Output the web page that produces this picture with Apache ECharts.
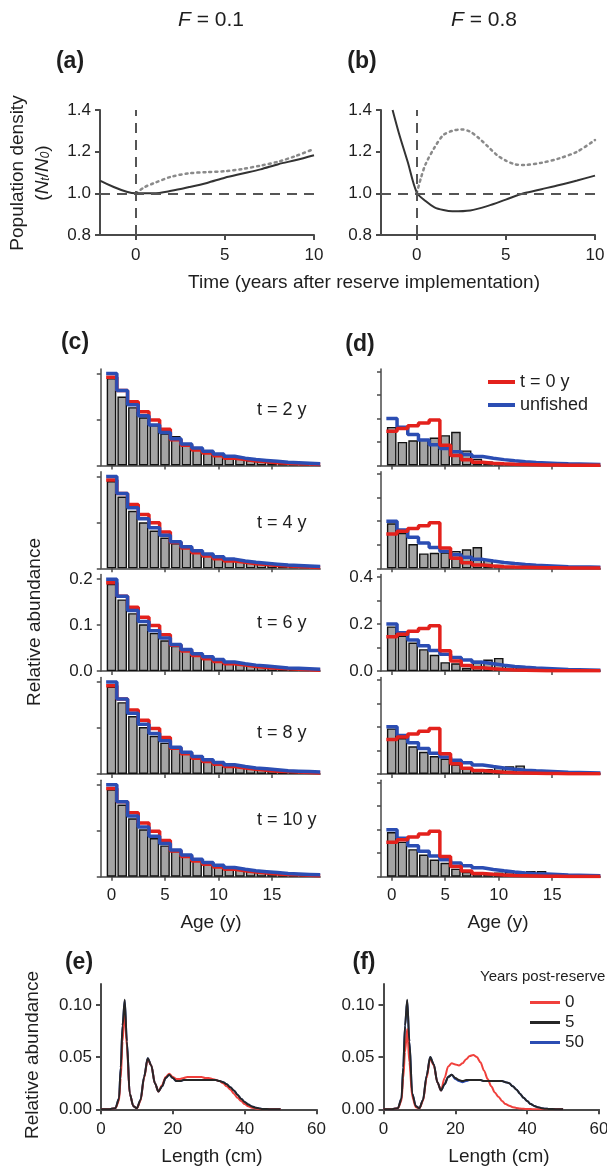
<!DOCTYPE html>
<html><head><meta charset="utf-8">
<script src="https://cdn.jsdelivr.net/npm/echarts/dist/echarts.min.js"></script>
<style>html,body{margin:0;padding:0;background:#fff;}#c{width:607px;height:1170px;}</style>
</head><body><div id="c"></div>
<script>
// ---------- DATA ----------
// Panels (a)/(b): population density (N_t/N_0) vs time after reserve implementation
const refDensity = 1.0;
const reserveYear = 0;
const timeSolidA = [-2, 0, 1, 2, 3, 4, 5, 6, 7, 8, 9, 10];
const densSolidA = [1.061, 1.0, 1.0, 1.012, 1.03, 1.05, 1.075, 1.095, 1.115, 1.14, 1.16, 1.183];
const timeDotA = [0, 0.5, 1, 2, 3, 4, 5, 6, 7, 8, 9, 10];
const densDotA = [1.0, 1.03, 1.048, 1.08, 1.096, 1.102, 1.106, 1.117, 1.133, 1.152, 1.18, 1.213];
const timeSolidB = [-1.35, -1, -0.5, 0, 0.5, 1, 1.5, 2, 3, 4, 5, 6, 7, 8, 9, 10];
const densSolidB = [1.4, 1.29, 1.15, 1.005, 0.963, 0.933, 0.92, 0.914, 0.918, 0.94, 0.97, 1.0, 1.02, 1.04, 1.062, 1.085];
const timeDotB = [0, 0.25, 0.5, 1, 1.5, 2, 2.5, 3, 3.5, 4, 4.5, 5, 5.5, 6, 7, 8, 9, 10];
const densDotB = [1.0, 1.077, 1.14, 1.22, 1.28, 1.3, 1.307, 1.296, 1.264, 1.224, 1.184, 1.157, 1.14, 1.136, 1.147, 1.168, 1.2, 1.256];
const timeTicks = [0, 5, 10];
const densTicks = [0.8, 1.0, 1.2, 1.4];

// Panels (c)/(d): relative abundance by age
const ages = [0,1,2,3,4,5,6,7,8,9,10,11,12,13,14,15,16,17,18,19];
const ageTicks = [0, 5, 10, 15];
const yearLabels = ['t = 2 y', 't = 4 y', 't = 6 y', 't = 8 y', 't = 10 y'];
const unfished = [0.2, 0.163, 0.132, 0.108, 0.088, 0.072, 0.058, 0.047, 0.038, 0.031, 0.025, 0.02, 0.016, 0.013, 0.011, 0.009, 0.007, 0.006, 0.005, 0.004];
const fishedC = [0.192, 0.163, 0.139, 0.117, 0.099, 0.079, 0.056, 0.044, 0.034, 0.027, 0.021, 0.016, 0.013, 0.01, 0.008, 0.006, 0.005, 0.004, 0.003, 0.002];
const fishedD = [0.146, 0.157, 0.169, 0.181, 0.193, 0.086, 0.043, 0.024, 0.014, 0.01, 0.007, 0.005, 0.004, 0.003, 0.002, 0.002, 0.001, 0.001, 0.001, 0.001];
const barsC2 = [0.19, 0.15, 0.127, 0.105, 0.088, 0.07, 0.064, 0.049, 0.038, 0.03, 0.024, 0.019, 0.015, 0.012, 0.01, 0.008, 0.006, 0.005, 0.004, 0.003];
const barsC4 = [0.19, 0.156, 0.125, 0.1, 0.082, 0.067, 0.055, 0.046, 0.039, 0.031, 0.025, 0.02, 0.016, 0.013, 0.01, 0.008, 0.007, 0.005, 0.004, 0.003];
const barsC6 = [0.19, 0.156, 0.126, 0.102, 0.083, 0.067, 0.055, 0.045, 0.037, 0.03, 0.024, 0.019, 0.016, 0.013, 0.01, 0.008, 0.007, 0.005, 0.004, 0.003];
const barsC8 = [0.19, 0.156, 0.126, 0.102, 0.083, 0.068, 0.055, 0.045, 0.037, 0.03, 0.024, 0.02, 0.016, 0.013, 0.01, 0.008, 0.007, 0.005, 0.004, 0.003];
const barsC10 = [0.19, 0.157, 0.127, 0.103, 0.084, 0.068, 0.056, 0.046, 0.037, 0.03, 0.025, 0.02, 0.016, 0.013, 0.01, 0.008, 0.007, 0.005, 0.004, 0.003];
const barsD2 = [0.164, 0.1, 0.107, 0.111, 0.119, 0.129, 0.143, 0.064, 0.029, 0.017, 0.011, 0.008, 0.006, 0.005, 0.004, 0.003, 0.002, 0.002, 0.001, 0.001];
const barsD4 = [0.191, 0.151, 0.103, 0.063, 0.066, 0.068, 0.074, 0.081, 0.09, 0.037, 0.015, 0.01, 0.007, 0.005, 0.004, 0.003, 0.002, 0.002, 0.001, 0.001];
const barsD6 = [0.19, 0.151, 0.121, 0.093, 0.069, 0.038, 0.033, 0.014, 0.044, 0.049, 0.056, 0.026, 0.017, 0.01, 0.007, 0.005, 0.004, 0.003, 0.002, 0.001];
const barsD8 = [0.193, 0.152, 0.117, 0.094, 0.076, 0.065, 0.041, 0.025, 0.017, 0.021, 0.03, 0.033, 0.036, 0.018, 0.01, 0.006, 0.004, 0.003, 0.002, 0.001];
const barsD10 = [0.19, 0.149, 0.117, 0.094, 0.073, 0.059, 0.034, 0.021, 0.014, 0.015, 0.018, 0.021, 0.021, 0.024, 0.024, 0.01, 0.006, 0.004, 0.003, 0.002];
const cTicks = [0, 0.1, 0.2];
const dTicks = [0, 0.1, 0.2, 0.3, 0.4];
const dLabels = [0, 0.2, 0.4];

// Panels (e)/(f): relative abundance by length
const lengths = [0, 2, 4, 5, 5.5, 6, 6.6, 7.2, 8, 9, 10, 11, 12, 13, 14, 15, 16, 17, 18, 19, 20, 21, 22, 23, 24, 25, 26, 27, 28, 29, 30, 31, 32, 33, 34, 35, 36, 37, 38, 39, 40, 41, 42, 43, 44, 45, 46, 48, 50];
const lenE0 = [0,0,0.001,0.008,0.03,0.065,0.095,0.06,0.015,0.003, 0.001,0.008,0.03,0.048,0.042,0.025,0.017,0.023,0.031,0.034, 0.031,0.029,0.029,0.03,0.031,0.031,0.031,0.031,0.031,0.03, 0.03,0.029,0.028,0.027,0.025,0.022,0.019,0.015,0.011,0.008, 0.005,0.003,0.0015,0.0007,0.0003,0.0001,0,0,0];
const lenE5 = [0,0,0.001,0.01,0.04,0.08,0.105,0.065,0.015,0.003, 0.001,0.009,0.031,0.049,0.042,0.025,0.017,0.022,0.03,0.033, 0.03,0.027,0.027,0.028,0.028,0.028,0.028,0.028,0.028,0.028, 0.028,0.028,0.028,0.027,0.026,0.024,0.021,0.018,0.014,0.01, 0.007,0.0045,0.0028,0.0016,0.0008,0.0004,0.0002,0,0];
const lenE50 = [0,0,0.001,0.01,0.04,0.08,0.104,0.065,0.015,0.003, 0.001,0.009,0.031,0.049,0.042,0.025,0.017,0.022,0.03,0.033, 0.03,0.027,0.027,0.028,0.028,0.028,0.028,0.028,0.028,0.028, 0.028,0.028,0.028,0.027,0.026,0.024,0.021,0.018,0.014,0.01, 0.007,0.0045,0.0028,0.0016,0.0008,0.0004,0.0002,0,0];
const lenF0 = [0,0,0.001,0.008,0.03,0.055,0.077,0.045,0.012,0.002, 0.001,0.008,0.03,0.049,0.042,0.026,0.018,0.03,0.041,0.044, 0.043,0.042,0.044,0.048,0.051,0.052,0.05,0.045,0.037,0.029, 0.022,0.016,0.012,0.008,0.005,0.0035,0.002,0.0013,0.0008,0.0005, 0.0003,0.0002,0.0001,0,0,0,0,0,0];
const lenF5 = [0,0,0.001,0.01,0.04,0.08,0.105,0.065,0.015,0.003, 0.001,0.009,0.032,0.05,0.043,0.026,0.018,0.024,0.031,0.033, 0.03,0.028,0.027,0.028,0.028,0.028,0.028,0.028,0.027,0.027, 0.027,0.027,0.027,0.027,0.026,0.025,0.022,0.019,0.015,0.011, 0.008,0.005,0.0032,0.002,0.0011,0.0006,0.0003,0.0001,0];
const lenF50 = [0,0,0.001,0.01,0.04,0.08,0.104,0.065,0.015,0.003, 0.001,0.009,0.032,0.05,0.043,0.026,0.018,0.024,0.031,0.033, 0.029,0.027,0.026,0.027,0.028,0.028,0.028,0.028,0.027,0.027, 0.027,0.027,0.027,0.027,0.026,0.025,0.022,0.019,0.015,0.011, 0.008,0.005,0.0032,0.002,0.0011,0.0006,0.0003,0.0001,0];
const lenTicks = [0, 20, 40, 60];
const abTicks = [0, 0.05, 0.1];

// ---------- STYLE / HELPERS ----------
const FONT = '"Liberation Sans", Arial, Helvetica, sans-serif';
const INK = '#1e1e1e';
const AXIS = '#4a4a4a';
const RED = '#e3211c', BLUE = '#2b4db3';
const RED_L = '#f0403c', BLACK_L = '#262626';
const zip = (xs, ys) => xs.map((x, i) => [x, ys[i]]);
const stepData = (vals) => ages.map((a, i) => [a - 0.5, vals[i]]).concat([[ages[ages.length - 1] + 0.5, vals[vals.length - 1]]]);

const option = {animation: false, backgroundColor: '#fff', grid: [], xAxis: [], yAxis: [], series: [], legend: [], graphic: []};

function ax(o) {
  return {
    type: 'value', min: o.min, max: o.max,
    axisLine: {show: true, onZero: false, lineStyle: {color: AXIS, width: o.lw || 2}},
    axisTick: {show: true, length: o.tl || 5, customValues: o.ticks, lineStyle: {color: AXIS, width: o.lw || 2}},
    axisLabel: {show: !!o.labels, customValues: o.labels || o.ticks, formatter: o.fmt, color: INK,
      fontFamily: FONT, fontSize: o.fs || 17, margin: o.margin || 8},
    splitLine: {show: false}
  };
}
function panel(g, x, y) {
  option.grid.push(Object.assign({outerBoundsMode: 'none', containLabel: false}, g));
  const gi = option.grid.length - 1;
  option.xAxis.push(Object.assign({gridIndex: gi}, x));
  option.yAxis.push(Object.assign({gridIndex: gi}, y));
  return gi;
}
function txt(x, y, text, o) {
  o = o || {};
  const al = o.align || 'center';
  return {type: 'text', x: x, y: y, rotation: o.rot || 0, silent: true,
    style: {text: text, fill: INK, fontFamily: FONT, fontSize: o.fs || 19, fontWeight: o.fw || 'normal',
      align: al, verticalAlign: 'middle', textAlign: al, textVerticalAlign: 'middle', rich: o.rich}};
}
const f1 = v => v.toFixed(1), f2 = v => v.toFixed(2);

// ---------- (a) & (b) ----------
const refMark = {symbol: ['none', 'none'], silent: true, label: {show: false},
  lineStyle: {type: [10, 7], color: '#555', width: 2}, data: [{yAxis: refDensity}, {xAxis: reserveYear}]};
[[100, timeSolidA, densSolidA, timeDotA, densDotA], [381, timeSolidB, densSolidB, timeDotB, densDotB]].forEach(p => {
  const gi = panel({left: p[0], top: 110, width: 214, height: 125},
    ax({min: -2, max: 10, ticks: timeTicks, labels: timeTicks, margin: 12}),
    ax({min: 0.8, max: 1.4, ticks: densTicks, labels: densTicks, fmt: f1, margin: 9}));
  option.series.push({type: 'line', xAxisIndex: gi, yAxisIndex: gi, data: zip(p[3], p[4]), showSymbol: false, smooth: 0.3,
    lineStyle: {color: '#8a8a8a', width: 2.5, type: [2, 4], cap: 'round'}, z: 2});
  option.series.push({type: 'line', xAxisIndex: gi, yAxisIndex: gi, data: zip(p[1], p[2]), showSymbol: false, smooth: 0.3,
    lineStyle: {color: '#333', width: 2}, markLine: refMark, z: 3});
});

// ---------- (c) & (d) ----------
const barsCAll = [barsC2, barsC4, barsC6, barsC8, barsC10];
const barsDAll = [barsD2, barsD4, barsD6, barsD8, barsD10];
for (let k = 0; k < 5; k++) {
  const base = 465.5 + 102.8 * k;
  const top = base - 96.5;
  [[100.8, 0.21, cTicks, cTicks, barsCAll[k], fishedC, 3, 4], [381, 0.41, dTicks, dLabels, barsDAll[k], fishedD, 4, 3]].forEach(p => {
    const gi = panel({left: p[0], top: top, width: 219.4, height: 96.5},
      ax({min: -1, max: 19.5, ticks: ageTicks, labels: k === 4 ? ageTicks : null, lw: 1.5, tl: 4, margin: 10}),
      ax({min: 0, max: p[1], ticks: p[2], labels: k === 2 ? p[3] : null, fmt: f1, lw: 1.5, tl: 4, margin: 8}));
    option.series.push({type: 'bar', xAxisIndex: gi, yAxisIndex: gi, data: zip(ages, p[4]), barWidth: 9.6,
      itemStyle: {color: '#a4a4a4', borderColor: '#111', borderWidth: 1.4}, z: 2});
    option.series.push({type: 'line', name: 't = 0 y', xAxisIndex: gi, yAxisIndex: gi, data: stepData(p[5]), step: 'end',
      showSymbol: false, itemStyle: {color: RED}, lineStyle: {color: RED, width: 3.5}, z: p[6]});
    option.series.push({type: 'line', name: 'unfished', xAxisIndex: gi, yAxisIndex: gi, data: stepData(unfished), step: 'end',
      showSymbol: false, itemStyle: {color: BLUE}, lineStyle: {color: BLUE, width: 3.5}, z: p[7]});
  });
}

// ---------- (e) & (f) ----------
[[101, lenE0, lenE5, lenE50], [383.5, lenF0, lenF5, lenF50]].forEach(p => {
  const gi = panel({left: p[0], top: 984, width: 215.5, height: 125.3},
    ax({min: 0, max: 60, ticks: lenTicks, labels: lenTicks, margin: 12}),
    ax({min: 0, max: 0.12, ticks: abTicks, labels: abTicks, fmt: f2, margin: 9}));
  const mk = (name, d, c, z) => ({type: 'line', name: name, xAxisIndex: gi, yAxisIndex: gi, data: zip(lengths, d),
    showSymbol: false, smooth: 0.3, smoothMonotone: 'x', itemStyle: {color: c}, lineStyle: {color: c, width: 2}, z: z});
  option.series.push(mk('50', p[3], BLUE, 2), mk('0', p[1], RED_L, 3), mk('5', p[2], BLACK_L, 4));
});

// ---------- legends ----------
option.legend.push({data: ['t = 0 y', 'unfished'], orient: 'vertical', left: 488, top: 373, icon: 'rect',
  itemWidth: 27, itemHeight: 4, itemGap: 5, selectedMode: false, padding: 0,
  textStyle: {color: INK, fontFamily: FONT, fontSize: 18}});
option.legend.push({data: ['0', '5', '50'], orient: 'vertical', left: 530, top: 994, icon: 'rect',
  itemWidth: 30, itemHeight: 3, itemGap: 3, selectedMode: false, padding: 0,
  textStyle: {color: INK, fontFamily: FONT, fontSize: 17}});

// ---------- texts ----------
const richI = {i: {fontStyle: 'italic', fontFamily: FONT, fontSize: 21, fill: INK}};
const richN = {i: {fontStyle: 'italic', fontFamily: FONT, fontSize: 19, fill: INK},
  s: {fontStyle: 'italic', fontFamily: FONT, fontSize: 12, fill: INK, verticalAlign: 'bottom'}};
option.graphic.push(
  txt(211, 20, '{i|F} = 0.1', {fs: 21, rich: richI}),
  txt(484, 20, '{i|F} = 0.8', {fs: 21, rich: richI}),
  txt(70, 62, '(a)', {fs: 23, fw: 'bold'}),
  txt(362, 62, '(b)', {fs: 23, fw: 'bold'}),
  txt(75, 343, '(c)', {fs: 23, fw: 'bold'}),
  txt(360, 345, '(d)', {fs: 23, fw: 'bold'}),
  txt(79, 963, '(e)', {fs: 23, fw: 'bold'}),
  txt(364, 963, '(f)', {fs: 23, fw: 'bold'}),
  txt(17.5, 173, 'Population density', {rot: Math.PI / 2}),
  txt(42.5, 173, '({i|N}{s|t}/{i|N}{s|0})', {rot: Math.PI / 2, rich: richN}),
  txt(364, 283, 'Time (years after reserve implementation)'),
  txt(35, 622, 'Relative abundance', {rot: Math.PI / 2}),
  txt(33, 1055, 'Relative abundance', {rot: Math.PI / 2}),
  txt(211, 923, 'Age (y)'),
  txt(498, 923, 'Age (y)'),
  txt(212, 1157, 'Length (cm)'),
  txt(499, 1157, 'Length (cm)'),
  txt(480, 977, 'Years post-reserve', {fs: 15, align: 'left'})
);
const tY = [410, 523, 623, 733, 820];
yearLabels.forEach((s, k) => option.graphic.push(txt(257, tY[k], s, {fs: 18, align: 'left'})));

const chart = echarts.init(document.getElementById('c'), null, {renderer: 'canvas'});
chart.setOption(option);
</script></body></html>
